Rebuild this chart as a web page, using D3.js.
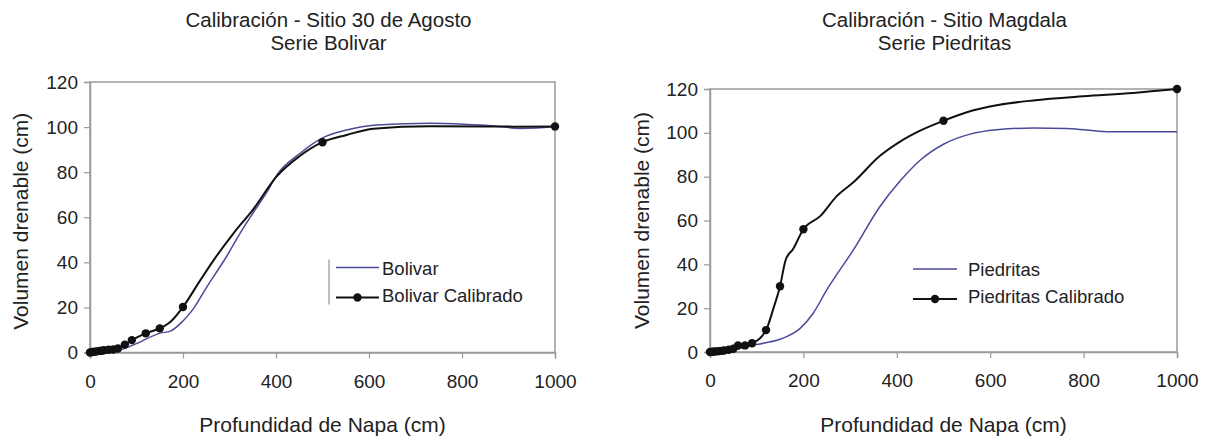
<!DOCTYPE html>
<html>
<head>
<meta charset="utf-8">
<script src="https://cdn.jsdelivr.net/npm/d3@7"></script>
<style>
  html, body { margin: 0; padding: 0; background: #fff; }
  svg { display: block; }
  text { font-family: "Liberation Sans", Arial, sans-serif; fill: #222; }
</style>
</head>
<body>
<svg id="chart" width="1206" height="439"></svg>
<script>
// ---------- data ----------
const xTicks = [0, 200, 400, 600, 800, 1000];
const yTicks = [0, 20, 40, 60, 80, 100, 120];

const titleLeft = ["Calibración - Sitio 30 de Agosto", "Serie Bolivar"];
const titleRight = ["Calibración - Sitio Magdala", "Serie Piedritas"];
const xTitle = "Profundidad de Napa (cm)";
const yTitle = "Volumen drenable (cm)";

const legendLeft = ["Bolivar", "Bolivar Calibrado"];
const legendRight = ["Piedritas", "Piedritas Calibrado"];

// Left chart: Bolivar
const bolivarX = [0, 40, 66, 94, 151, 173, 200, 223, 251, 294, 323, 351, 380, 401, 452, 498, 552, 616, 731, 803, 870, 925, 960, 1000];
const bolivarY = [0, 0.2, 1.2, 3.4, 8.6, 9.5, 14, 19.6, 29, 42.7, 53, 62, 71, 78.5, 88.4, 95, 98.7, 100.9, 101.7, 101.3, 100.5, 99.4, 99.6, 100.3];

const bolivarCalLineX = [0, 20, 40, 60, 75, 90, 120, 150, 175, 200, 237, 266, 309, 351, 401, 450, 500, 552, 609, 731, 850, 910, 1000];
const bolivarCalLineY = [0, 0.6, 1.1, 1.8, 3.5, 5.5, 8.5, 10.7, 14, 20.2, 32, 41, 53, 63.5, 78, 87, 93.3, 96.5, 99.3, 100.4, 100.3, 100.2, 100.3];

const calPtsX = [0, 5, 10, 15, 20, 25, 30, 40, 50, 60, 75, 90, 120, 150, 200, 500, 1000];
const bolivarCalPtsY = [0, 0.2, 0.3, 0.5, 0.7, 0.8, 1, 1.2, 1.3, 1.8, 3.5, 5.5, 8.5, 10.7, 20.2, 93.3, 100.3];

// Right chart: Piedritas
const piedritasX = [0, 50, 89, 107, 150, 164, 193, 221, 250, 307, 364, 407, 450, 500, 557, 614, 692, 763, 806, 856, 1000];
const piedritasY = [0, 1, 3.0, 3.7, 5.8, 7, 10.8, 17.7, 28.3, 46.6, 66.4, 78, 87.5, 94.8, 99.4, 101.4, 102.2, 102, 101.3, 100.5, 100.5];

const piedritasCalLineX = [0, 30, 50, 60, 75, 90, 120, 136, 150, 162, 178, 200, 236, 271, 307, 364, 407, 450, 500, 550, 620, 692, 799, 906, 1000];
const piedritasCalLineY = [0, 0.7, 1.5, 3, 3, 4, 10, 20, 30, 42, 47, 56, 62, 71, 77.4, 89.5, 96, 101, 105.5, 109.4, 112.8, 114.8, 116.7, 118.2, 120];

const piedritasCalPtsY = [0, 0.1, 0.2, 0.3, 0.4, 0.5, 0.7, 1, 1.5, 3, 3, 4, 10, 30, 56, 105.5, 120];

// ---------- drawing ----------
const svg = d3.select("#chart");
svg.append("rect").attr("width", 1206).attr("height", 439).attr("fill", "#fff");

const BLUE = "#4a4a98";
const BLACK = "#111";
const FRAME = "#9a9a9a";

function zip(xs, ys) { return xs.map((x, i) => ({x: x, y: ys[i]})); }

function drawChart(cfg) {
  const x = d3.scaleLinear().domain([0, 1000]).range([cfg.left, cfg.right]);
  const y = d3.scaleLinear().domain([0, 120]).range([cfg.bottom, cfg.top]);
  const g = svg.append("g");
  const cx = (cfg.left + cfg.right) / 2;

  // titles
  cfg.title.forEach((t, i) => {
    g.append("text").attr("x", cx + cfg.titleDx).attr("y", 27 + i * 23)
      .attr("text-anchor", "middle").attr("font-size", 20.5).text(t);
  });

  // frame
  g.append("rect").attr("x", cfg.left).attr("y", cfg.top)
    .attr("width", cfg.right - cfg.left).attr("height", cfg.bottom - cfg.top)
    .attr("fill", "none").attr("stroke", FRAME).attr("stroke-width", 1.5);

  // axes
  const xAxis = g.append("g").attr("transform", `translate(0,${cfg.bottom})`)
    .call(d3.axisBottom(x).tickValues(xTicks).tickSize(6).tickPadding(16).tickFormat(d3.format("d")));
  const yAxis = g.append("g").attr("transform", `translate(${cfg.left},0)`)
    .call(d3.axisLeft(y).tickValues(yTicks).tickSize(6).tickPadding(6).tickFormat(d3.format("d")));
  [xAxis, yAxis].forEach(a => {
    a.select(".domain").attr("stroke", FRAME).attr("stroke-width", 1.5);
    a.selectAll(".tick line").attr("stroke", FRAME).attr("stroke-width", 1.2);
    a.selectAll(".tick text").attr("font-size", 19).attr("fill", "#222")
      .attr("font-family", "Liberation Sans, Arial, sans-serif");
  });

  // axis titles
  g.append("text").attr("x", cx).attr("y", 432).attr("text-anchor", "middle")
    .attr("font-size", 21).text(xTitle);
  g.append("text").attr("transform", `translate(${cfg.left - cfg.yTitleOff},${(cfg.top + cfg.bottom) / 2 + cfg.yTitleDy}) rotate(-90)`)
    .attr("text-anchor", "middle").attr("font-size", 21).text(yTitle);

  const line = d3.line().x(d => x(d.x)).y(d => y(d.y)).curve(d3.curveMonotoneX);

  g.append("path").datum(zip(cfg.baseX, cfg.baseY)).attr("d", line)
    .attr("fill", "none").attr("stroke", BLUE).attr("stroke-width", 1.5);
  g.append("path").datum(zip(cfg.calLineX, cfg.calLineY)).attr("d", line)
    .attr("fill", "none").attr("stroke", BLACK).attr("stroke-width", 2);
  g.selectAll(null).data(zip(calPtsX, cfg.calPtsY)).enter().append("circle")
    .attr("cx", d => x(d.x)).attr("cy", d => y(d.y)).attr("r", 4.2).attr("fill", BLACK);

  // legend
  const L = cfg.legend;
  if (L.bar) {
    g.append("line").attr("x1", L.x - 7).attr("x2", L.x - 7).attr("y1", L.y - 8).attr("y2", L.y + 37)
      .attr("stroke", "#aaa").attr("stroke-width", 1.5);
  }
  g.append("line").attr("x1", L.x).attr("x2", L.x + L.w).attr("y1", L.y).attr("y2", L.y)
    .attr("stroke", BLUE).attr("stroke-width", 1.5);
  g.append("line").attr("x1", L.x).attr("x2", L.x + L.w).attr("y1", L.y + 30).attr("y2", L.y + 30)
    .attr("stroke", BLACK).attr("stroke-width", 2);
  g.append("circle").attr("cx", L.x + L.w / 2).attr("cy", L.y + 30).attr("r", 4.2).attr("fill", BLACK);
  cfg.legendText.forEach((t, i) => {
    g.append("text").attr("x", L.x + L.w + L.gap).attr("y", L.y + 7 + i * 27)
      .attr("font-size", 18.5).text(t);
  });
}

drawChart({
  left: 90, right: 555, top: 82, bottom: 352.5, titleDx: 6, yTitleOff: 62, yTitleDy: 4,
  title: titleLeft,
  baseX: bolivarX, baseY: bolivarY,
  calLineX: bolivarCalLineX, calLineY: bolivarCalLineY, calPtsY: bolivarCalPtsY,
  legend: {x: 336, y: 267.5, w: 43, gap: 3, bar: true},
  legendText: legendLeft
});

drawChart({
  left: 710, right: 1177, top: 89, bottom: 352, titleDx: 1, yTitleOff: 61, yTitleDy: 0,
  title: titleRight,
  baseX: piedritasX, baseY: piedritasY,
  calLineX: piedritasCalLineX, calLineY: piedritasCalLineY, calPtsY: piedritasCalPtsY,
  legend: {x: 913, y: 269, w: 44, gap: 11, bar: false},
  legendText: legendRight
});
</script>
</body>
</html>
